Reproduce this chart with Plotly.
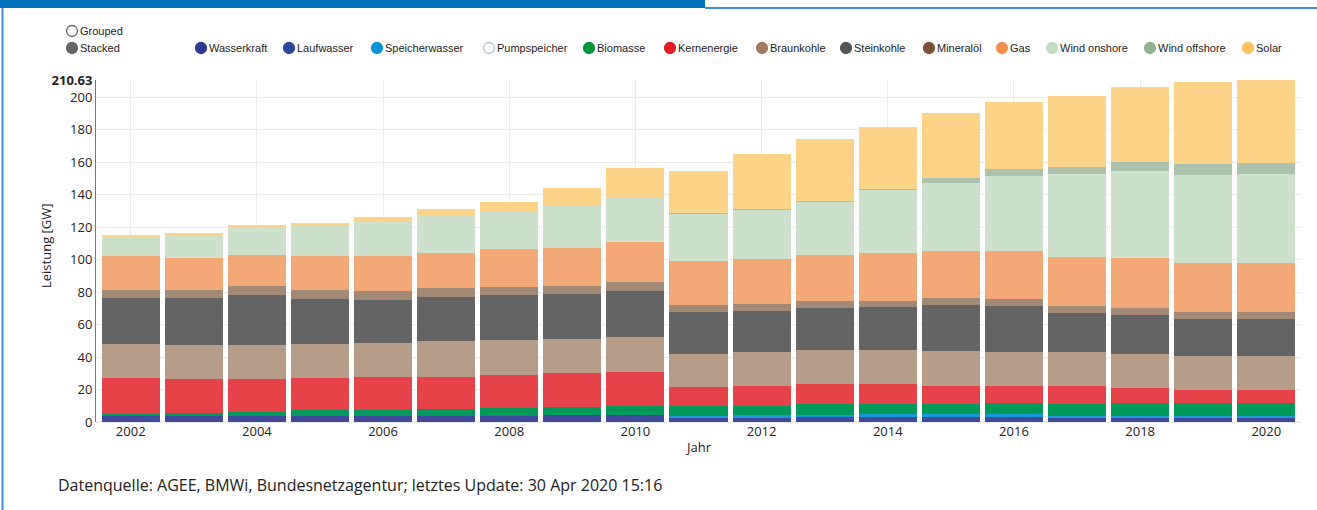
import plotly.graph_objects as go

# ---------------- data ----------------
years = [2002, 2003, 2004, 2005, 2006, 2007, 2008, 2009, 2010, 2011,
         2012, 2013, 2014, 2015, 2016, 2017, 2018, 2019, 2020]

wasserkraft = [3.6, 3.6, 4.0, 4.0, 4.0, 4.0, 4.0, 4.4, 4.4, None,
               None, None, None, None, None, None, None, None, None]
laufwasser = [None, None, None, None, None, None, None, None, None, 2.4,
              2.5, 2.8, 3.0, 2.8, 2.8, 2.6, 2.6, 2.6, 2.6]
speicherwasser = [None, None, None, None, None, None, None, None, None, 1.6,
                  1.7, 1.6, 1.8, 2.0, 2.0, 1.2, 1.2, 1.2, 1.2]
biomasse = [1.5, 1.8, 2.0, 3.1, 3.4, 3.9, 4.8, 5.1, 5.7, 5.8,
            5.7, 6.4, 6.2, 6.4, 6.8, 7.2, 8.0, 7.9, 7.9]
kernenergie = [22.3, 20.9, 20.3, 20.1, 20.2, 20.1, 20.0, 20.5, 20.6, 12.0,
               12.1, 12.5, 12.3, 11.0, 10.7, 11.1, 9.0, 7.9, 7.9]
braunkohle = [20.6, 21.2, 21.0, 20.8, 21.0, 21.6, 21.4, 21.4, 21.6, 20.2,
              21.2, 21.0, 21.0, 21.4, 21.1, 21.1, 21.2, 21.0, 21.0]
steinkohle = [28.3, 28.8, 30.7, 27.7, 26.7, 27.6, 27.8, 27.4, 28.6, 25.7,
              25.3, 25.9, 26.3, 28.6, 28.0, 23.7, 23.8, 22.8, 22.8]
mineraloel = [5.2, 5.2, 5.5, 5.6, 5.6, 5.3, 5.3, 5.2, 5.5, 4.3,
              4.1, 4.5, 4.1, 4.1, 4.3, 4.5, 4.6, 4.3, 4.3]
gas = [20.5, 19.5, 19.6, 20.7, 21.4, 21.4, 23.1, 23.4, 24.5, 27.4,
       27.6, 28.4, 29.6, 29.1, 29.9, 30.0, 30.4, 30.4, 30.4]
wind_onshore = [12.1, 14.0, 16.9, 18.8, 20.7, 22.8, 23.2, 25.7, 27.0, 29.0,
                30.8, 32.8, 38.7, 41.5, 46.1, 51.1, 53.5, 53.9, 54.6]
wind_offshore = [0, 0, 0, 0, 0, 0, 0, 0, 0, 0.1,
                 0.3, 0.5, 0.8, 3.5, 4.0, 4.5, 5.6, 6.8, 6.7]
solar = [0.7, 1.2, 1.4, 2.0, 3.5, 4.2, 6.2, 11.3, 18.3, 25.9,
         33.5, 37.7, 37.7, 39.7, 41.2, 43.6, 46.3, 50.5, 51.23]

y_max = 210.63
y_ticks = [0, 20, 40, 60, 80, 100, 120, 140, 160, 180, 200]

series_names = ["Wasserkraft", "Laufwasser", "Speicherwasser", "Biomasse",
                "Kernenergie", "Braunkohle", "Steinkohle", "Mineralöl", "Gas",
                "Wind onshore", "Wind offshore", "Solar"]
series_values = [wasserkraft, laufwasser, speicherwasser, biomasse,
                 kernenergie, braunkohle, steinkohle, mineraloel, gas,
                 wind_onshore, wind_offshore, solar]
bar_colors = ["#414a98", "#414a98", "#1b9ad8", "#00995a",
              "#e5424a", "#b59d89", "#646464", "#a38a77", "#f3a977",
              "#cce0cb", "#adc2ad", "#fbd489"]

legend_names = ["Wasserkraft", "Laufwasser", "Speicherwasser", "Pumpspeicher",
                "Biomasse", "Kernenergie", "Braunkohle", "Steinkohle",
                "Mineralöl", "Gas", "Wind onshore", "Wind offshore", "Solar"]
legend_colors = ["#2b398f", "#2e4699", "#0a93d6", "#a9c4e4",
                 "#00943c", "#e31e26", "#a07c62", "#555555",
                 "#7b5237", "#f28e4f", "#c2ddc0", "#92b391", "#fcc45e"]
legend_hollow = [False, False, False, True, False, False, False, False,
                 False, False, False, False, False]
legend_circle_px = [201, 289, 377, 489, 589, 670, 762, 846, 929, 1002, 1052, 1150, 1248]

# ---------------- geometry helpers ----------------
W, H = 1317, 510
ML, MR, MT, MB = 96, 16, 80, 88
PW, PH = W - ML - MR, H - MT - MB


def px(x):
    return (x - ML) / PW


def py(y):
    return (H - MB - y) / PH


FONT = "Open Sans, Lato, sans-serif"
NARROW = "Liberation Sans Narrow, Arial Narrow, Liberation Sans, Arial, sans-serif"

fig = go.Figure()
for name, vals, col in zip(series_names, series_values, bar_colors):
    fig.add_trace(go.Bar(x=years, y=vals, name=name,
                         marker=dict(color=col, line=dict(width=0))))

shapes = []
annotations = []

# header bar and frame
shapes.append(dict(type="rect", xref="paper", yref="paper",
                   x0=px(0), x1=px(705), y0=py(8), y1=py(-2),
                   fillcolor="#0072bb", line=dict(width=0), layer="above"))
shapes.append(dict(type="line", xref="paper", yref="paper",
                   x0=px(705), x1=px(1317), y0=py(8), y1=py(8),
                   line=dict(color="#3f8fd2", width=2)))
shapes.append(dict(type="line", xref="paper", yref="paper",
                   x0=px(2.5), x1=px(2.5), y0=py(8), y1=py(512),
                   line=dict(color="#3f8fd2", width=2)))


def add_circle(cx, cy, color, hollow):
    shapes.append(dict(type="circle", xref="paper", yref="paper",
                       xsizemode="pixel", ysizemode="pixel",
                       xanchor=px(cx), yanchor=py(cy),
                       x0=-5.5, x1=5.5, y0=-5.5, y1=5.5,
                       fillcolor="white" if hollow else color,
                       line=dict(color=color, width=1.3)))


def add_label(x, y, text, size=11, family=NARROW):
    annotations.append(dict(xref="paper", yref="paper", x=px(x), y=py(y),
                            xanchor="left", yanchor="middle", showarrow=False,
                            text=text, font=dict(family=family, size=size, color="#222")))


# grouped / stacked switch
add_circle(72, 31, "#666666", True)
add_label(78, 31, "Grouped")
add_circle(72, 48, "#666666", False)
add_label(78, 48, "Stacked")

for name, col, hol, cx in zip(legend_names, legend_colors, legend_hollow, legend_circle_px):
    add_circle(cx, 48, col, hol)
    add_label(cx + 6, 48, name)

# y-axis title
annotations.append(dict(xref="paper", yref="paper", x=px(46), y=py(246),
                        xanchor="center", yanchor="middle", showarrow=False,
                        textangle=-90, text="Leistung [GW]",
                        font=dict(family=FONT, size=13, color="#222")))
# x-axis title
annotations.append(dict(xref="paper", yref="paper", x=0.5, y=py(447),
                        xanchor="center", yanchor="middle", showarrow=False,
                        text="Jahr", font=dict(family=FONT, size=13, color="#222")))
# footer
annotations.append(dict(xref="paper", yref="paper", x=px(56), y=py(485),
                        xanchor="left", yanchor="middle", showarrow=False,
                        text="Datenquelle: AGEE, BMWi, Bundesnetzagentur; letztes Update: 30 Apr 2020 15:16",
                        font=dict(family=FONT, size=16, color="#222")))

fig.update_layout(
    width=W, height=H,
    margin=dict(l=ML, r=MR, t=MT, b=MB, pad=0),
    barmode="stack", bargap=0.08,
    showlegend=False,
    plot_bgcolor="white", paper_bgcolor="white",
    font=dict(family=FONT, size=13, color="#222"),
    shapes=shapes, annotations=annotations,
    xaxis=dict(range=[2001.45, 2020.55], tickmode="linear", tick0=2002, dtick=2,
               showgrid=True, gridcolor="#ececec", zeroline=False, showline=False,
               ticks="", tickfont=dict(family=FONT, size=13, color="#222")),
    yaxis=dict(range=[0, y_max],
               tickvals=y_ticks + [y_max],
               ticktext=[str(v) for v in y_ticks] + ["<b>%s</b>" % y_max],
               showgrid=True, gridcolor="#ececec", zeroline=True, zerolinecolor="#ececec",
               showline=True, linecolor="#777777", linewidth=1, ticks="",
               tickfont=dict(family=FONT, size=13, color="#222")),
)

fig.write_html("out.html",
               config={"displayModeBar": False},
               post_script="document.body.style.margin='0';document.body.style.overflow='hidden';")
